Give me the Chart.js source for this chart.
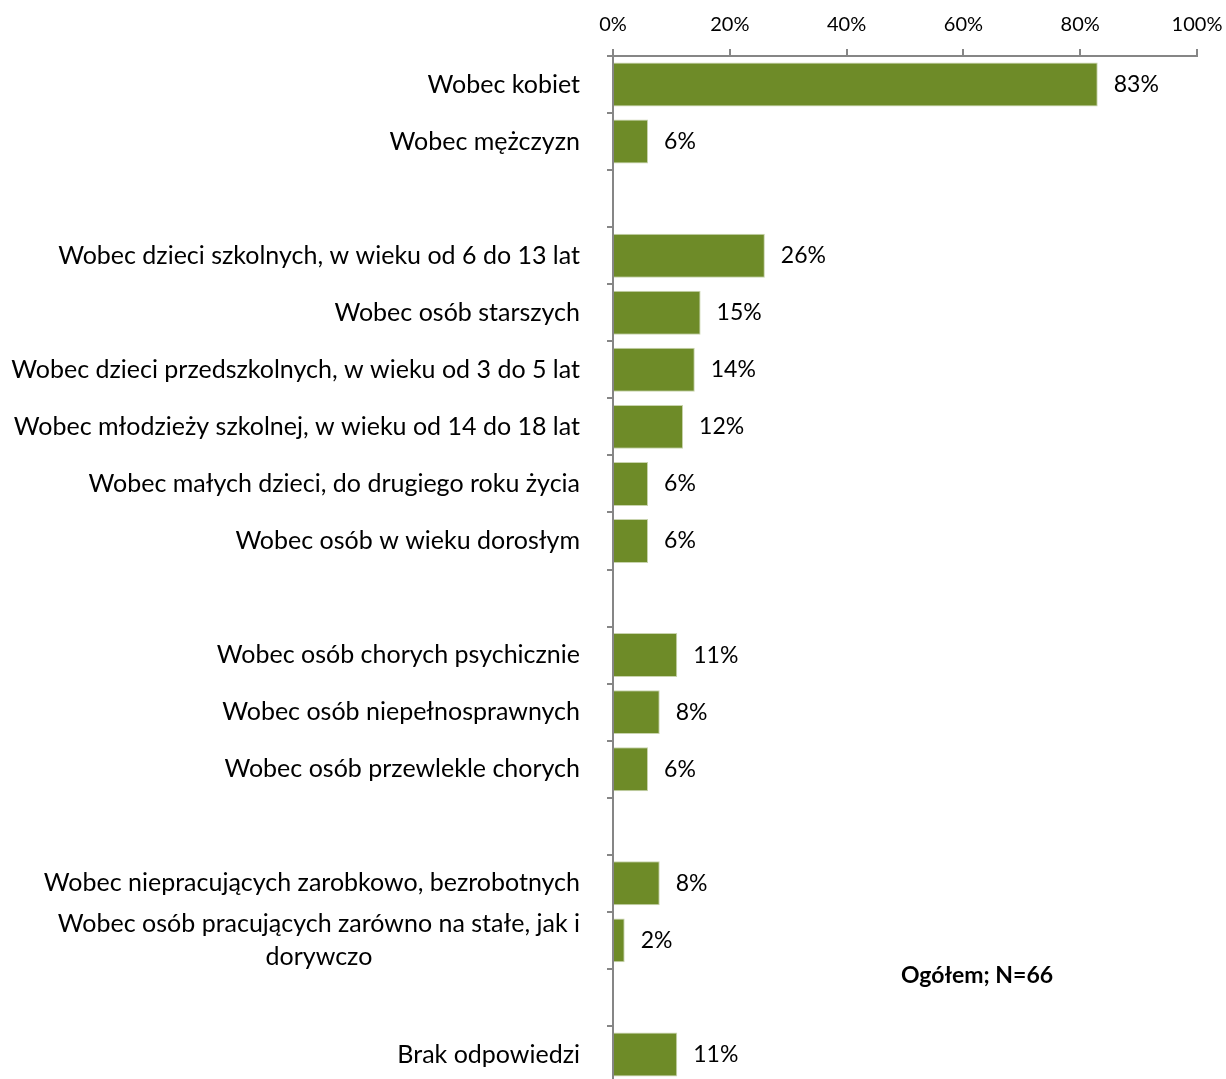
<!DOCTYPE html>
<html>
<head>
<meta charset="utf-8">
<script src="https://cdn.jsdelivr.net/npm/chart.js@4"></script>
<style>
html,body{margin:0;padding:0;background:#fff;overflow:hidden;}
#wrap{width:1226px;height:1079px;position:relative;overflow:hidden;}
</style>
</head>
<body>
<div id="wrap"><canvas id="c" width="1226" height="1083"></canvas></div>
<script>
const categories = [
  'Wobec kobiet',
  'Wobec mężczyzn',
  '',
  'Wobec dzieci szkolnych, w wieku od 6 do 13 lat',
  'Wobec osób starszych',
  'Wobec dzieci przedszkolnych, w wieku od 3 do 5 lat',
  'Wobec młodzieży szkolnej, w wieku od 14 do 18 lat',
  'Wobec małych dzieci, do drugiego roku życia',
  'Wobec osób w wieku dorosłym',
  '',
  'Wobec osób chorych psychicznie',
  'Wobec osób niepełnosprawnych',
  'Wobec osób przewlekle chorych',
  '',
  'Wobec niepracujących zarobkowo, bezrobotnych',
  ['Wobec osób pracujących zarówno na stałe, jak i', 'dorywczo'],
  '',
  'Brak odpowiedzi'
];
const values = [83, 6, null, 26, 15, 14, 12, 6, 6, null, 11, 8, 6, null, 8, 2, null, 11];
const xTicks = [0, 20, 40, 60, 80, 100];
const noteText = 'Ogółem; N=66';

const FONT = 'Lato, "Open Sans", sans-serif';
const GRAY = '#868686';

const labelPlugin = {
  id: 'labels',
  afterDraw(chart) {
    const ctx = chart.ctx;
    const y = chart.scales.y;
    ctx.save();
    ctx.fillStyle = '#000';
    ctx.font = '25px ' + FONT;
    ctx.textBaseline = 'middle';
    categories.forEach((lab, i) => {
      const cy = y.getPixelForValue(i);
      const right = 580;
      if (Array.isArray(lab)) {
        const widths = lab.map(l => ctx.measureText(l).width);
        const maxW = Math.max(...widths);
        const cx = right - maxW / 2;
        const lh = 33;
        ctx.textAlign = 'center';
        lab.forEach((l, k) => {
          ctx.fillText(l, cx, cy + (k - (lab.length - 1) / 2) * lh);
        });
      } else if (lab) {
        ctx.textAlign = 'right';
        ctx.fillText(lab, right, cy);
      }
    });
    // value labels
    ctx.font = '23px ' + FONT;
    ctx.textAlign = 'left';
    const meta = chart.getDatasetMeta(0);
    meta.data.forEach((bar, i) => {
      const v = values[i];
      if (v === null || v === undefined) return;
      ctx.fillText(v + '%', bar.x + 16, bar.y);
    });
    // note
    ctx.font = 'bold 23px ' + FONT;
    ctx.textAlign = 'center';
    ctx.fillText(noteText, 977, 976);
    ctx.restore();
  }
};

new Chart(document.getElementById('c'), {
  type: 'bar',
  data: {
    labels: categories,
    datasets: [{
      data: values,
      backgroundColor: '#6E8B28',
      borderColor: '#C9D4AE',
      borderWidth: 1,
      borderSkipped: 'left',
      barPercentage: 0.77,
      categoryPercentage: 1.0
    }]
  },
  options: {
    indexAxis: 'y',
    responsive: false,
    animation: false,
    devicePixelRatio: 1,
    layout: { padding: { left: 0, right: 29, top: 0, bottom: 0 } },
    plugins: { legend: { display: false }, tooltip: { enabled: false } },
    scales: {
      x: {
        position: 'top',
        min: 0, max: 100,
        afterBuildTicks(scale) { scale.ticks = xTicks.map(v => ({ value: v })); },
        afterFit(scale) { scale.height = 56; scale.paddingLeft = 0; scale.paddingRight = 0; },
        ticks: {
          callback: v => v + '%',
          font: { family: FONT, size: 20 },
          color: '#000',
          padding: 12,
          maxRotation: 0
        },
        grid: { drawOnChartArea: false, drawTicks: true, tickLength: 7, color: GRAY, lineWidth: 2 },
        border: { color: GRAY, width: 2 }
      },
      y: {
        afterFit(scale) { scale.width = 613; },
        ticks: { display: false },
        grid: { drawOnChartArea: false, drawTicks: true, tickLength: 6, color: GRAY, lineWidth: 2, offset: true },
        border: { color: GRAY, width: 2 }
      }
    }
  },
  plugins: [labelPlugin]
});
</script>
</body>
</html>
